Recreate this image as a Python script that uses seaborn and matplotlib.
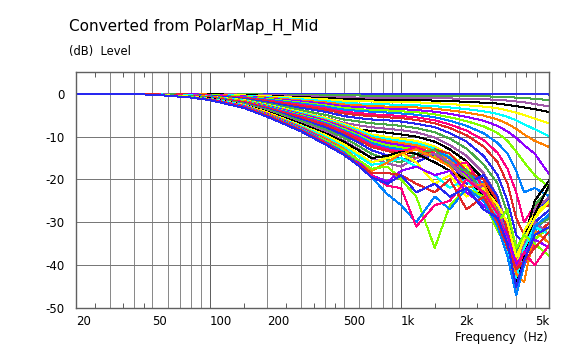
import matplotlib
matplotlib.use('Agg')
import matplotlib.pyplot as plt
from matplotlib.ticker import NullFormatter
import pandas as pd
import seaborn as sns

# frequency points (Hz) shared by every curve
FREQ = [20, 50, 80, 100, 150, 200, 300, 400, 500, 600, 700, 850, 1000,
        1200, 1500, 1800, 2200, 2700, 3200, 3600, 4000, 4400, 5000, 6000]

# level (dB) per horizontal angle
deg000 = [0, 0, 0, 0, 0, 0, 0, 0, 0, 0, 0, 0, 0, 0, 0, 0, 0, 0, 0, 0, 0, 0, 0, -0.2]
deg005 = [0, 0, 0, 0, -0.1, -0.2, -0.3, -0.3, -0.4, -0.4, -0.5, -0.5, -0.5, -0.5, -0.5, -0.5, -0.6, -0.6, -0.7, -0.8, -0.9, -1.0, -1.2, -1.5]
deg010 = [0, 0, 0, -0.1, -0.2, -0.3, -0.5, -0.7, -0.8, -0.9, -0.9, -1.0, -1.0, -1.0, -1.0, -1.1, -1.2, -1.3, -1.4, -1.6, -1.8, -2.0, -2.4, -3.0]
deg015 = [0, 0, -0.1, -0.1, -0.3, -0.5, -0.8, -1.0, -1.2, -1.3, -1.4, -1.4, -1.5, -1.5, -1.6, -1.7, -1.9, -2.1, -2.3, -2.6, -2.9, -3.2, -3.6, -4.3]
deg020 = [0, 0, -0.1, -0.2, -0.4, -0.6, -1.0, -1.3, -1.6, -1.7, -1.8, -1.9, -2.0, -2.0, -2.2, -2.4, -2.7, -3.0, -3.4, -3.9, -4.4, -5.0, -5.8, -7.0]
deg025 = [0, 0, -0.1, -0.2, -0.5, -0.8, -1.3, -1.7, -2.1, -2.3, -2.4, -2.5, -2.6, -2.7, -2.9, -3.2, -3.6, -4.1, -4.7, -5.4, -6.2, -7.1, -8.3, -10.0]
deg030 = [0, 0, -0.1, -0.2, -0.6, -0.9, -1.6, -2.0, -2.5, -2.7, -2.9, -3.0, -3.1, -3.2, -3.5, -3.9, -4.4, -5.1, -6.0, -7.0, -8.2, -9.5, -11.0, -12.5]
deg035 = [0, 0, -0.1, -0.3, -0.6, -1.1, -1.8, -2.3, -2.9, -3.1, -3.3, -3.5, -3.6, -3.8, -4.2, -4.7, -5.4, -6.3, -7.5, -8.8, -10.3, -12.0, -14.0, -19.0]
deg040 = [0, 0, -0.2, -0.3, -0.7, -1.2, -2.1, -2.7, -3.3, -3.6, -3.8, -3.9, -4.1, -4.3, -4.8, -5.5, -6.4, -7.6, -9.2, -11.0, -13.5, -16.0, -19.0, -22.0]
deg045 = [0, 0, -0.2, -0.4, -0.8, -1.4, -2.3, -3.0, -3.7, -4.0, -4.2, -4.4, -4.6, -4.9, -5.5, -6.3, -7.5, -9.2, -11.5, -14.0, -18.0, -23.0, -22.0, -24.0]
deg050 = [0, 0, -0.2, -0.4, -0.9, -1.6, -2.6, -3.4, -4.2, -4.5, -4.8, -5.0, -5.2, -5.5, -6.2, -7.2, -8.6, -10.8, -13.8, -17.5, -23.0, -30.0, -26.0, -25.0]
deg055 = [0, 0, -0.2, -0.5, -1.0, -1.7, -2.9, -3.7, -4.6, -5.0, -5.2, -5.5, -5.7, -6.1, -6.9, -8.0, -9.7, -12.3, -16.0, -21.0, -29.0, -33.0, -27.0, -26.0]
deg060 = [0, 0, -0.3, -0.5, -1.2, -2.0, -3.3, -4.2, -5.2, -5.7, -6.0, -6.2, -6.5, -7.0, -7.8, -9.2, -11.2, -14.5, -19.0, -25.0, -33.0, -35.0, -28.0, -24.0]
deg065 = [0, 0, -0.3, -0.6, -1.4, -2.3, -3.8, -4.9, -6.0, -6.5, -6.9, -7.2, -7.5, -8.0, -9.0, -10.5, -12.8, -16.5, -21.0, -28.0, -37.0, -34.0, -26.0, -22.0]
deg070 = [0, -0.1, -0.3, -0.7, -1.5, -2.6, -4.3, -5.5, -6.8, -7.4, -7.8, -8.2, -8.5, -9.0, -10.2, -12.0, -14.5, -18.5, -24.0, -31.0, -40.0, -33.0, -27.0, -24.0]
deg075 = [0, -0.1, -0.4, -0.8, -1.7, -2.9, -4.8, -6.2, -7.6, -8.3, -8.7, -9.1, -9.5, -10.0, -11.2, -13.0, -15.8, -20.0, -26.0, -33.0, -42.0, -34.0, -25.0, -20.0]
deg080 = [0, -0.1, -0.4, -0.7, -1.5, -2.6, -4.3, -5.6, -7.0, -8.2, -9.5, -10.1, -10.5, -11.0, -12.3, -14.2, -17.0, -21.5, -28.0, -35.0, -41.0, -32.0, -28.0, -25.0]
deg085 = [0, -0.1, -0.4, -0.7, -1.6, -2.7, -4.5, -5.9, -7.3, -8.6, -9.9, -10.6, -11.0, -11.5, -12.8, -14.8, -17.8, -22.5, -29.0, -36.0, -43.0, -35.0, -30.0, -27.0]
deg090 = [0, -0.1, -0.5, -0.7, -1.7, -2.8, -4.7, -6.1, -7.6, -9.0, -10.3, -11.0, -11.5, -12.0, -13.3, -15.3, -18.5, -23.0, -30.0, -37.0, -44.0, -36.0, -31.0, -29.0]
deg095 = [0, -0.1, -0.5, -0.8, -1.8, -2.9, -4.8, -6.3, -7.9, -9.3, -10.7, -11.5, -12.0, -12.5, -14.0, -16.0, -19.0, -24.0, -31.0, -38.0, -42.0, -37.0, -33.0, -30.0]
deg100 = [0, -0.1, -0.5, -0.8, -1.8, -3.0, -5.0, -6.6, -8.2, -9.7, -11.1, -12.0, -12.5, -13.0, -14.5, -16.5, -19.5, -25.0, -32.0, -36.0, -40.0, -38.0, -34.0, -31.0]
deg105 = [0, -0.1, -0.5, -0.8, -1.9, -3.1, -5.2, -6.8, -8.5, -10.0, -11.5, -12.5, -13.0, -14.0, -13.0, -15.0, -18.0, -21.0, -28.0, -34.0, -45.0, -38.0, -32.0, -28.0]
deg110 = [0, -0.1, -0.5, -0.9, -1.9, -3.3, -5.4, -7.1, -8.8, -10.4, -12.0, -13.0, -13.5, -12.5, -14.0, -17.0, -16.0, -22.0, -27.0, -33.0, -39.0, -40.0, -35.0, -38.0]
deg115 = [0, -0.1, -0.6, -0.9, -2.0, -3.4, -5.6, -7.3, -9.1, -10.8, -12.4, -13.4, -14.0, -15.0, -13.0, -14.0, -18.0, -20.0, -25.0, -32.0, -41.0, -36.0, -33.0, -30.0]
deg120 = [0, -0.2, -0.6, -1.0, -2.2, -3.6, -6.0, -7.8, -9.6, -11.4, -13.2, -14.4, -15.0, -16.0, -14.0, -16.0, -21.0, -19.0, -24.0, -35.0, -44.0, -37.0, -30.0, -27.0]
deg125 = [0, -0.2, -0.6, -1.0, -2.3, -3.8, -6.4, -8.3, -10.2, -12.2, -14.0, -15.4, -16.0, -14.0, -13.0, -17.0, -18.0, -23.0, -27.0, -36.0, -38.0, -33.0, -31.0, -29.0]
deg130 = [0, -0.2, -0.7, -1.1, -2.5, -4.1, -6.8, -8.8, -10.9, -13.0, -15.0, -16.3, -17.0, -15.0, -14.0, -16.0, -20.0, -22.0, -26.0, -34.0, -42.0, -35.0, -30.0, -33.0]
deg135 = [0, -0.2, -0.7, -1.1, -2.6, -4.2, -7.0, -9.2, -11.2, -13.2, -15.0, -14.5, -13.5, -14.0, -16.0, -18.0, -20.0, -24.0, -30.0, -36.0, -44.0, -38.0, -28.0, -21.0]
deg140 = [0, -0.2, -0.7, -1.2, -2.6, -4.4, -7.4, -9.6, -11.7, -14.0, -16.0, -15.0, -14.0, -16.0, -21.0, -19.0, -24.0, -22.0, -26.0, -30.0, -38.0, -34.0, -29.0, -25.0]
deg145 = [0, -0.2, -0.8, -1.2, -2.7, -4.6, -7.6, -10.0, -12.4, -14.6, -16.6, -16.0, -15.0, -17.0, -19.0, -22.0, -20.0, -25.0, -30.0, -37.0, -43.0, -36.0, -31.0, -33.0]
deg150 = [0, -0.2, -0.8, -1.3, -2.8, -4.6, -7.8, -10.4, -12.8, -15.5, -18.0, -16.0, -14.0, -13.0, -15.0, -17.0, -22.0, -21.0, -28.0, -35.0, -42.0, -44.0, -32.0, -35.0]
deg155 = [0, -0.2, -0.8, -1.3, -2.9, -4.8, -8.0, -10.8, -13.2, -16.0, -19.0, -20.5, -18.0, -17.0, -19.0, -18.0, -23.0, -26.0, -29.0, -33.0, -40.0, -37.0, -34.0, -36.0]
deg160 = [0, -0.2, -0.8, -1.4, -3.0, -4.9, -8.2, -10.9, -13.2, -15.5, -17.5, -17.0, -20.0, -24.0, -36.0, -26.0, -22.0, -24.0, -30.0, -27.0, -36.0, -33.0, -35.0, -38.0]
deg165 = [0, -0.2, -0.9, -1.4, -3.0, -5.0, -8.3, -11.2, -13.6, -16.5, -19.5, -23.5, -26.0, -30.0, -24.0, -27.0, -22.0, -25.0, -31.0, -38.0, -47.0, -40.0, -31.0, -28.0]
deg170 = [0, -0.2, -0.9, -1.4, -3.1, -5.1, -8.5, -11.4, -14.0, -16.5, -19.0, -21.5, -22.0, -31.0, -26.0, -25.0, -20.0, -23.0, -28.0, -35.0, -41.0, -37.0, -40.0, -35.0]
deg175 = [0, -0.2, -0.9, -1.4, -3.2, -5.2, -8.6, -11.6, -14.1, -16.5, -18.5, -18.5, -19.0, -21.0, -23.0, -20.0, -27.0, -24.0, -30.0, -36.0, -41.0, -39.0, -36.0, -32.0]
deg180 = [0, -0.2, -0.9, -1.5, -3.3, -5.4, -8.8, -11.8, -14.2, -16.8, -19.5, -21.0, -19.0, -23.0, -21.0, -24.0, -22.0, -27.0, -29.0, -35.0, -45.0, -39.0, -33.0, -31.0]

CURVES = [deg000, deg005, deg010, deg015, deg020, deg025, deg030, deg035,
          deg040, deg045, deg050, deg055, deg060, deg065, deg070, deg075,
          deg080, deg085, deg090, deg095, deg100, deg105, deg110, deg115,
          deg120, deg125, deg130, deg135, deg140, deg145, deg150, deg155,
          deg160, deg165, deg170, deg175, deg180]
ANGLES = [f'{5 * i} deg' for i in range(len(CURVES))]

# colour cycle used by the curves
COLORS = ['#2828f0', '#48a848', '#a058a8', '#000000', '#ffff00', '#00ffff',
          '#ff8000', '#9000ff', '#80ff00', '#0080ff', '#ff0080', '#e02828']

XTICKS = [20, 50, 100, 200, 500, 1000, 2000, 5000]
XLABELS = ['20', '50', '100', '200', '500', '1k', '2k', '5k']
YTICKS = [-50, -40, -30, -20, -10, 0]
YLABELS = ['-50', '-40', '-30', '-20', '-10', '0']
GRID_F = [30, 40, 50, 60, 70, 80, 90, 200, 300, 400, 500, 600, 700, 800, 900,
          2000, 3000, 4000, 5000]
DECADES = [100, 1000]
HALF_TICKS = [25, 35, 45, 150, 250, 350, 450, 1500, 2500, 3500, 4500]

# long table for seaborn
rows = []
for ang, lev in zip(ANGLES, CURVES):
    for f, v in zip(FREQ, lev):
        rows.append((f, v, ang))
df = pd.DataFrame(rows, columns=['freq', 'level', 'angle'])

sns.set_style('white')
plt.rcParams['font.family'] = ['DejaVu Sans']
plt.rcParams['text.color'] = 'black'
plt.rcParams['xtick.color'] = 'black'
plt.rcParams['ytick.color'] = 'black'

px = 72 / 100  # one pixel in points
frame = '#606060'
fig = plt.figure(figsize=(5.78, 3.51), dpi=100)
ax = fig.add_axes([76.3 / 578, 1 - 308 / 351, 473 / 578, 235.7 / 351])
ax.set_xscale('log')

# grid first so the curves sit on top
for f in GRID_F:
    ax.axvline(f, color='#8a8a8a', lw=px, zorder=1, antialiased=False)
for f in DECADES:
    ax.axvline(f, color=frame, lw=px, zorder=1, antialiased=False)
for y in YTICKS[1:]:
    ax.axhline(y, color='#787878', lw=px, zorder=1, antialiased=False)

palette = [COLORS[i % len(COLORS)] for i in range(len(ANGLES))]
sns.lineplot(data=df, x='freq', y='level', hue='angle', hue_order=ANGLES,
             palette=palette, estimator=None, sort=False, legend=False,
             linewidth=px, antialiased=False, ax=ax, zorder=3)

ax.set_xlim(20, 5960)
ax.set_ylim(-50, 5)
ax.set_xlabel('')
ax.set_ylabel('')

ax.set_xticks(XTICKS)
ax.set_xticklabels(XLABELS)
for lbl in ax.get_xticklabels():
    lbl.set_horizontalalignment('left')
ax.set_xticks(HALF_TICKS, minor=True)
ax.xaxis.set_minor_formatter(NullFormatter())
ax.tick_params(axis='x', which='major', length=0, pad=5, labelsize=8.5)
ax.tick_params(axis='x', which='minor', direction='in', length=3.5, width=px,
               color=frame, top=True, bottom=True)

ax.set_yticks(YTICKS)
ax.set_yticklabels(YLABELS)
ax.tick_params(axis='y', length=0, pad=8.5, labelsize=8.5)

for s in ax.spines.values():
    s.set_color(frame)
    s.set_linewidth(1.0)
    s.set_zorder(4)

fig.text(69 / 578, 1 - 19 / 351, 'Converted from PolarMap_H_Mid',
         fontsize=11, va='top', ha='left')
fig.text(69 / 578, 1 - 51 / 351, '(dB)  Level', fontsize=8.3, va='center', ha='left')
fig.text(548 / 578, 1 - 338 / 351, 'Frequency  (Hz)', fontsize=8.5,
         va='center', ha='right')

fig.savefig('out.png', dpi=100)
